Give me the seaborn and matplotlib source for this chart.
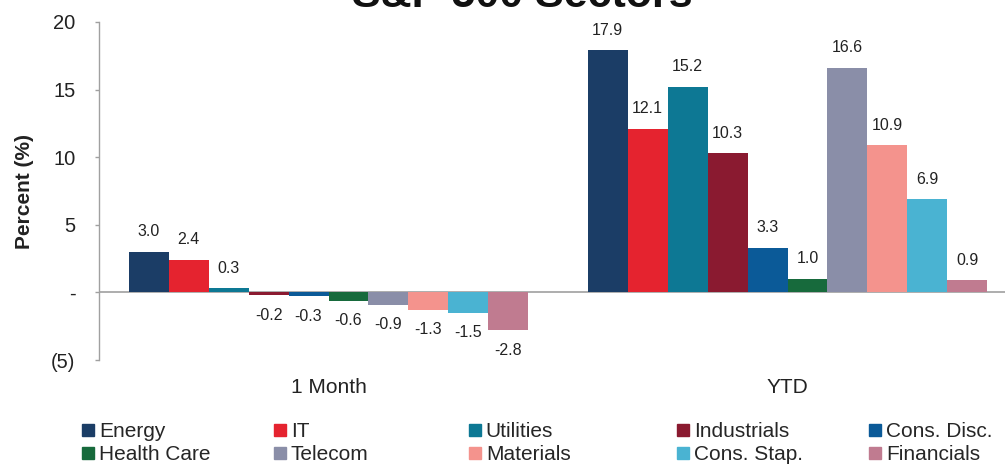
import matplotlib
matplotlib.use("Agg")
import matplotlib.pyplot as plt
from matplotlib.lines import Line2D
import seaborn as sns
import pandas as pd

# chart data
periods = ["1 Month", "YTD"]
sectors = ["Energy", "IT", "Utilities", "Industrials", "Cons. Disc.",
           "Health Care", "Telecom", "Materials", "Cons. Stap.", "Financials"]
one_month = [3.0, 2.4, 0.3, -0.2, -0.3, -0.6, -0.9, -1.3, -1.5, -2.8]
ytd = [17.9, 12.1, 15.2, 10.3, 3.3, 1.0, 16.6, 10.9, 6.9, 0.9]
sector_colors = ["#1b3d66", "#e5232f", "#0d7894", "#8a1a30", "#0b5a98",
                 "#176a3c", "#8a8ea8", "#f4938d", "#4ab3d2", "#c07b90"]
ytick_values = [-5, 0, 5, 10, 15, 20]
ytick_labels = ["(5)", "-", "5", "10", "15", "20"]

rows = []
for s, a, b in zip(sectors, one_month, ytd):
    rows.append({"period": periods[0], "sector": s, "value": a})
    rows.append({"period": periods[1], "sector": s, "value": b})
df = pd.DataFrame(rows)

sns.set_theme(style="white")
plt.rcParams["font.family"] = ["Liberation Sans", "DejaVu Sans"]

fig = plt.figure(figsize=(10.05, 4.65), dpi=100)
ax = fig.add_axes([99 / 1005, 105 / 465, 918 / 1005, 338 / 465])

sns.barplot(data=df, x="period", y="value", hue="sector", order=periods,
            hue_order=sectors, palette=sector_colors, width=0.87,
            saturation=1, linewidth=0, legend=False, ax=ax)

for cont in ax.containers:
    ax.bar_label(cont, fmt="%.1f", padding=9, fontsize=11.5, color="#222222")

ax.axhline(0, color="#a0a0a0", lw=1.2, zorder=0)
ax.set_xlim(-0.5, 1.5)
ax.set_ylim(-5, 20)
ax.set_yticks(ytick_values)
ax.set_yticklabels(ytick_labels)
ax.set_xlabel("")
ax.set_ylabel("")

for side in ["top", "right", "bottom"]:
    ax.spines[side].set_visible(False)
ax.spines["left"].set_color("#a0a0a0")
ax.spines["left"].set_linewidth(1)

ax.tick_params(axis="y", left=True, length=3, width=1, color="#a0a0a0",
               pad=14, labelsize=14.5, labelcolor="#222222")
ax.tick_params(axis="x", bottom=False, pad=7, labelsize=15,
               labelcolor="#222222")

fig.text(25 / 1005, 1 - 191 / 465, "Percent (%)", rotation=90, ha="center",
         va="center", fontsize=15, fontweight="bold", color="#222222")

# title is cut off at the top edge of the image
fig.text(0.52, 1 - 7 / 465, "S&P 500 Sectors", ha="center", va="baseline",
         fontsize=31, fontweight="bold", color="#111111")

# legend: 5 columns, filled row by row
col_x = [80, 272, 467, 675, 867]
for i, x in enumerate(col_x):
    idx = [i, i + 5]
    handles = [Line2D([], [], marker="s", linestyle="", markersize=8,
                      color=sector_colors[j]) for j in idx]
    fig.legend(handles=handles, labels=[sectors[j] for j in idx],
               loc="center left", bbox_to_anchor=(x / 1005, 1 - 443 / 465),
               frameon=False, fontsize=15, handlelength=0.75,
               handletextpad=0.15, borderpad=0, borderaxespad=0,
               labelspacing=0.2)

fig.savefig("out.png", dpi=100)
